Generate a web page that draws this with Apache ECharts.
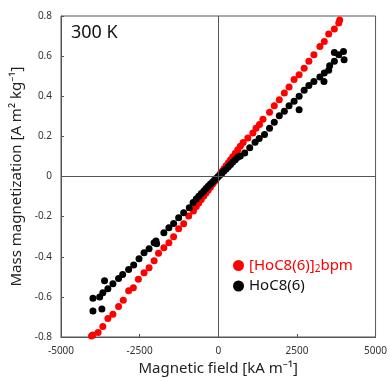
<!DOCTYPE html>
<html>
<head>
<meta charset="utf-8">
<script src="https://cdn.jsdelivr.net/npm/echarts@6/dist/echarts.min.js"></script>
<style>
  html, body { margin: 0; padding: 0; background: #fff; }
  #chart { width: 390px; height: 381px; }
</style>
</head>
<body>
<div id="chart"></div>
<script>
// [field kA/m, magnetization A m2/kg]
const bpmData = [
  [-4030, -0.795], [-3990, -0.790], [-3820, -0.778], [-3670, -0.748], [-3510, -0.708],
  [-3350, -0.687], [-3170, -0.648], [-3020, -0.617], [-2850, -0.570], [-2700, -0.554],
  [-2540, -0.512], [-2360, -0.480], [-2200, -0.455], [-2040, -0.420], [-1900, -0.383],
  [-1730, -0.355], [-1570, -0.330], [-1420, -0.300], [-1260, -0.260], [-1100, -0.235],
  [-940, -0.197], [-790, -0.172], [-700, -0.150], [-620, -0.132], [-540, -0.115],
  [-460, -0.097], [-390, -0.082], [-320, -0.068], [-250, -0.053], [-180, -0.038],
  [-120, -0.025], [-60, -0.012], [0, 0], [60, 0.013], [120, 0.026], [180, 0.039],
  [250, 0.054], [320, 0.069], [390, 0.083], [460, 0.098], [540, 0.116], [620, 0.133],
  [700, 0.151], [790, 0.170], [940, 0.192], [1100, 0.217], [1200, 0.240], [1310, 0.259],
  [1420, 0.285], [1630, 0.320], [1780, 0.353], [1940, 0.383], [2100, 0.416], [2250, 0.446],
  [2410, 0.483], [2570, 0.507], [2730, 0.540], [2880, 0.574], [3040, 0.607], [3230, 0.648],
  [3370, 0.673], [3510, 0.710], [3690, 0.735], [3830, 0.765], [3860, 0.780]
];
const monoData = [
  [-3984, -0.607], [-3984, -0.670], [-3770, -0.600], [-3700, -0.660], [-3616, -0.520],
  [-3670, -0.580], [-3510, -0.560], [-3350, -0.534], [-3170, -0.509], [-3040, -0.488],
  [-2850, -0.463], [-2690, -0.441], [-2520, -0.410], [-2360, -0.380], [-2200, -0.360],
  [-2040, -0.330], [-1980, -0.322], [-1960, -0.335], [-1730, -0.280], [-1570, -0.255],
  [-1420, -0.234], [-1260, -0.206], [-1100, -0.181], [-920, -0.156], [-800, -0.130],
  [-700, -0.112], [-620, -0.098], [-540, -0.085], [-460, -0.072], [-390, -0.060],
  [-320, -0.049], [-250, -0.038], [-180, -0.027], [-120, -0.018], [-60, -0.009], [0, 0],
  [60, 0.009], [120, 0.018], [180, 0.028], [250, 0.038], [320, 0.049], [390, 0.060],
  [460, 0.072], [540, 0.083], [620, 0.096], [700, 0.102], [840, 0.117], [1000, 0.143],
  [1170, 0.171], [1300, 0.190], [1470, 0.209], [1630, 0.240], [1780, 0.270], [1940, 0.303],
  [2100, 0.325], [2250, 0.353], [2410, 0.375], [2570, 0.400], [2570, 0.333], [2730, 0.430],
  [2880, 0.453], [3040, 0.474], [3230, 0.496], [3360, 0.474], [3370, 0.516], [3510, 0.529],
  [3540, 0.552], [3690, 0.574], [3690, 0.618], [3830, 0.607], [3980, 0.623], [4000, 0.582]
];
const seriesNames = ['[HoC8(6)]2bpm', 'HoC8(6)'];

const myChart = echarts.init(document.getElementById('chart'));
const axisColor = '#555';
const option = {
  animation: false,
  textStyle: { fontFamily: 'Noto Sans' },
  title: {
    text: '300 K',
    left: 66,
    top: 19,
    textStyle: { fontSize: 18, fontWeight: 'normal', color: '#111' }
  },
  grid: { left: 61, right: 11, top: 16, bottom: 43, show: true, borderColor: axisColor, borderWidth: 1 },
  legend: {
    orient: 'vertical',
    left: 228,
    top: 253,
    itemWidth: 11,
    itemHeight: 11,
    itemGap: 4,
    data: [
      { name: seriesNames[0], icon: 'circle' },
      { name: seriesNames[1], icon: 'circle' }
    ],
    formatter: function (name) {
      if (name === seriesNames[0]) return '{r|[HoC8(6)]}{rs|2}{r|bpm}';
      return '{k|HoC8(6)}';
    },
    textStyle: {
      rich: {
        r: { fontSize: 15, color: '#ff0000', fontFamily: 'Noto Sans' },
        rs: { fontSize: 10, color: '#ff0000', fontFamily: 'Noto Sans', padding: [8, 0, 0, 0] },
        k: { fontSize: 15, color: '#111', fontFamily: 'Noto Sans' }
      }
    }
  },
  xAxis: {
    type: 'value',
    min: -5000,
    max: 5000,
    interval: 2500,
    name: 'Magnetic field [kA m⁻¹]',
    nameLocation: 'middle',
    nameGap: 24,
    nameTextStyle: { fontSize: 15, color: '#222' },
    axisLine: { onZero: false, lineStyle: { color: axisColor } },
    axisTick: { inside: true, length: 3, lineStyle: { color: axisColor } },
    axisLabel: { fontSize: 10, color: '#333', margin: 9, formatter: v => String(v) },
    splitLine: { show: false }
  },
  yAxis: {
    type: 'value',
    min: -0.8,
    max: 0.8,
    interval: 0.2,
    name: 'Mass magnetization [A m² kg⁻¹]',
    nameLocation: 'middle',
    nameGap: 34,
    nameTextStyle: { fontSize: 15, color: '#222' },
    axisLine: { onZero: false, lineStyle: { color: axisColor } },
    axisTick: { inside: true, length: 3, lineStyle: { color: axisColor } },
    axisLabel: { fontSize: 10, color: '#333', margin: 9 },
    splitLine: { show: false }
  },
  series: [
    {
      name: seriesNames[0],
      type: 'scatter',
      symbolSize: 7,
      itemStyle: { color: '#ff0000', opacity: 1 },
      data: bpmData,
      markLine: {
        silent: true,
        symbol: 'none',
        label: { show: false },
        lineStyle: { color: axisColor, width: 1, type: 'solid' },
        data: [{ xAxis: 0 }, { yAxis: 0 }]
      }
    },
    {
      name: seriesNames[1],
      type: 'scatter',
      symbolSize: 7,
      itemStyle: { color: '#000', opacity: 1 },
      data: monoData
    }
  ]
};
myChart.setOption(option);
</script>
</body>
</html>
